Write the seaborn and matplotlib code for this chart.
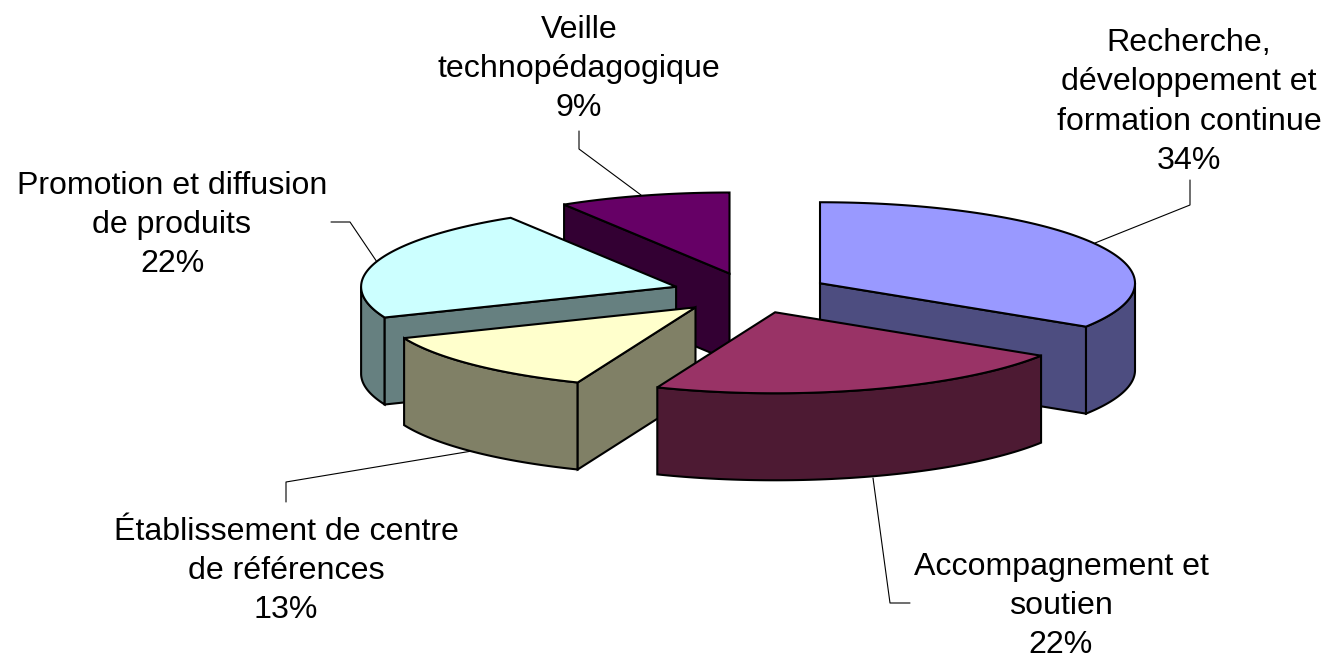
import numpy as np
import matplotlib
matplotlib.use('Agg')
import matplotlib.pyplot as plt
import seaborn as sns

labels = ['Recherche,\ndéveloppement et\nformation continue\n34%',
          'Accompagnement et\nsoutien\n22%',
          'Établissement de centre\nde références\n13%',
          'Promotion et diffusion\nde produits\n22%',
          'Veille\ntechnopédagogique\n9%']
# the labels show these rounded
shares = [34.0, 22.1, 12.7, 22.4, 8.8]
top_colors = ['#9999FF', '#993366', '#FFFFCC', '#CCFFFF', '#660066']
side_colors = ['#4D4D80', '#4D1A33', '#808066', '#668080', '#330033']

# label centres and leader lines, in image pixels
label_pos = [(1189, 102), (1061, 606), (286, 571), (172, 225), (579, 69)]
leaders = [[(1190, 180), (1190, 205), (1095, 243)],
           [(910, 603), (890, 603), (873, 478)],
           [(286, 502), (286, 482), (472, 451)],
           [(331, 222), (350, 222), (377, 262)],
           [(579, 131), (579, 149), (641, 195)]]

# pie geometry
cx, cy = 751, 293
rx, ry = 315, 81
depth = 87
explode = 0.25
# painter's order, back to front
order = [4, 3, 0, 2, 1]

sns.set_theme(style='white')
plt.rcParams['font.family'] = ['Liberation Sans', 'DejaVu Sans']

fig = plt.figure(figsize=(13.28, 6.57), dpi=100)
ax = fig.add_axes([0, 0, 1, 1])
ax.set_xlim(0, 1328)
ax.set_ylim(657, 0)
ax.axis('off')

edges = np.cumsum([0] + shares) / sum(shares) * 2 * np.pi


def arc(t, ox, oy):
    return np.column_stack([ox + rx * np.sin(t), oy - ry * np.cos(t)])


def face(pts, color, z):
    ax.fill(pts[:, 0], pts[:, 1], facecolor=color, edgecolor='black', linewidth=1.5,
            joinstyle='miter', zorder=z)


z = 2
for i in order:
    a, b = edges[i], edges[i + 1]
    mid = (a + b) / 2
    ox = cx + explode * rx * np.sin(mid)
    oy = cy - explode * ry * np.cos(mid)
    apex = np.array([[ox, oy]])
    drop = np.array([0, depth])

    # curved wall, only the part facing the viewer
    lo, hi = max(a, np.pi / 2), min(b, 3 * np.pi / 2)
    if hi > lo:
        t = np.linspace(lo, hi, 80)
        rim = arc(t, ox, oy)
        face(np.vstack([rim, rim[::-1] + drop]), side_colors[i], z)
        z += 1

    # straight cut faces
    for ang, visible in ((a, np.sin(a) < -1e-6), (b, np.sin(b) > 1e-6)):
        if visible:
            end = arc(np.array([ang]), ox, oy)
            face(np.vstack([apex, end, end + drop, apex + drop]), side_colors[i], z)
            z += 1

    # top
    t = np.linspace(a, b, 120)
    face(np.vstack([apex, arc(t, ox, oy)]), top_colors[i], z)
    z += 1

for i in range(len(labels)):
    xs, ys = zip(*leaders[i])
    ax.plot(xs, ys, color='black', linewidth=0.8, zorder=1)
    ax.text(label_pos[i][0], label_pos[i][1], labels[i], ha='center', va='center',
            fontsize=23.1, linespacing=1.4, color='black')

fig.savefig('out.png', dpi=100, facecolor='white')
